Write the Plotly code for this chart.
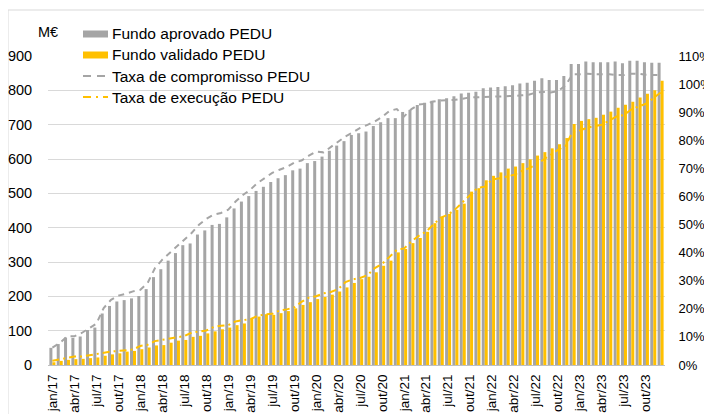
import plotly.graph_objects as go

# ---------------- data ----------------
month_names = ["jan", "fev", "mar", "abr", "mai", "jun", "jul", "ago", "set", "out", "nov", "dez"]
years = [17, 18, 19, 20, 21, 22, 23]
months = [f"{m}/{y}" for y in years for m in month_names]

fundo_aprovado = [
    50, 61, 80, 79, 83, 102, 109, 150, 172, 185, 189, 194,
    201, 221, 256, 279, 304, 326, 349, 354, 380, 392, 408, 411,
    430, 456, 476, 492, 507, 519, 533, 544, 553, 567, 572, 588,
    594, 607, 624, 639, 652, 670, 675, 680, 696, 707, 719, 719,
    737, 743, 757, 764, 770, 774, 777, 783, 791, 793, 796, 806,
    808, 810, 812, 815, 820, 822, 828, 835, 830, 830, 842, 877,
    877, 884, 882, 882, 882, 884, 879, 886, 886, 882, 880, 880,
]
fundo_validado = [
    8, 12, 15, 17, 18, 20, 22, 27, 31, 34, 39, 41,
    46, 51, 57, 58, 65, 71, 73, 82, 85, 92, 98, 104,
    109, 116, 121, 134, 141, 148, 146, 151, 157, 165, 175, 183,
    192, 198, 205, 214, 226, 239, 250, 257, 270, 289, 304, 328,
    338, 355, 370, 388, 413, 431, 440, 452, 470, 505, 515, 538,
    551, 561, 572, 578, 588, 599, 610, 620, 631, 643, 661, 702,
    711, 716, 720, 729, 738, 749, 758, 767, 779, 790, 800, 828,
]
taxa_compromisso = [
    6.2, 7.8, 10.2, 10.2, 11.4, 13.2, 14.7, 20.3, 23.2, 24.7, 25.3, 26.2,
    26.8, 29.2, 34.5, 37.5, 39.9, 42.2, 44.9, 47.0, 49.9, 52.0, 53.5, 54.1,
    55.3, 58.2, 60.5, 62.4, 64.8, 66.6, 68.4, 69.5, 70.5, 72.0, 72.8, 74.5,
    76.0, 75.7, 77.5, 79.6, 81.4, 82.8, 84.4, 85.5, 86.7, 88.3, 90.5, 91.1,
    88.5, 91.1, 92.7, 93.0, 93.8, 94.2, 94.2, 94.4, 94.8, 95.3, 95.3, 95.5,
    95.5, 95.6, 95.6, 95.8, 96.0, 96.2, 97.0, 97.2, 97.0, 97.5, 99.5, 103.5,
    103.5, 103.7, 103.5, 103.5, 103.5, 103.2, 103.2, 103.7, 103.7, 103.3, 103.2, 103.2,
]
taxa_execucao = [
    1.5, 2.0, 2.5, 3.0, 3.0, 3.5, 4.0, 4.5, 4.8, 5.0, 5.2, 5.5,
    6.8, 7.2, 8.5, 9.0, 9.3, 10.0, 10.3, 11.5, 12.0, 12.3, 13.5, 14.0,
    14.2, 15.5, 16.0, 16.3, 17.5, 18.0, 18.2, 19.4, 19.8, 20.5, 22.5, 24.0,
    24.5, 25.5, 26.0, 27.0, 29.5, 30.5, 31.0, 32.0, 34.5, 36.0, 38.5, 41.0,
    41.5, 44.0, 46.0, 47.5, 50.0, 52.5, 53.5, 55.5, 58.0, 60.5, 63.0, 63.5,
    66.0, 66.5, 67.0, 67.7, 69.0, 70.0, 71.3, 73.0, 75.0, 76.6, 78.0, 83.0,
    83.5, 84.5, 85.0, 85.5, 87.0, 88.5, 89.0, 91.0, 92.0, 93.0, 95.0, 97.0,
]
tick_labels = [m for i, m in enumerate(months) if i % 3 == 0]
left_ticks = [0, 100, 200, 300, 400, 500, 600, 700, 800, 900]
right_ticks = [0, 10, 20, 30, 40, 50, 60, 70, 80, 90, 100, 110]

series_names = ["Fundo aprovado PEDU", "Fundo validado PEDU",
                "Taxa de compromisso PEDU", "Taxa de execução PEDU"]

# ---------------- style ----------------
GREY = "#a5a5a5"
YELLOW = "#ffc000"
FONT = "Arial, Liberation Sans, sans-serif"
OFF = 8  # page body margin offset of the rendered figure
WIN_W, WIN_H = 712, 414
W, H = WIN_W - OFF, WIN_H - OFF   # figure fits the window exactly, no scrollbars
# target plot area in window pixels: x 48..665, y 56..365
L = 48 - OFF
T = 56 - OFF
R = W - (665 - OFF)
B = H - (365 - OFF)
PW, PH = W - L - R, H - T - B

def px(xp):
    return (xp - OFF - L) / PW

def py(yp):
    return (H - B - (yp - OFF)) / PH

xs = list(range(len(months)))

fig = go.Figure()
fig.add_trace(go.Bar(x=xs, y=fundo_aprovado, name=series_names[0],
                     marker=dict(color=GREY, line=dict(width=0)), showlegend=False))
fig.add_trace(go.Bar(x=xs, y=fundo_validado, name=series_names[1],
                     marker=dict(color=YELLOW, line=dict(width=0)), showlegend=False))
fig.add_trace(go.Scatter(x=xs, y=taxa_compromisso, yaxis="y2", mode="lines",
                         name=series_names[2], showlegend=False,
                         line=dict(color=GREY, width=2, dash="6px,5px")))
fig.add_trace(go.Scatter(x=xs, y=taxa_execucao, yaxis="y2", mode="lines",
                         name=series_names[3], showlegend=False,
                         line=dict(color=YELLOW, width=2, dash="7px,4px,2px,4px")))

fig.update_layout(
    width=W, height=H,
    margin=dict(l=L, r=R, t=T, b=B, pad=0, autoexpand=False),
    paper_bgcolor="white", plot_bgcolor="white",
    barmode="group", bargap=0.18, bargroupgap=0.0,
    font=dict(family=FONT, size=14, color="#000000"),
    xaxis=dict(
        range=[-0.6, len(months) - 0.4],
        tickmode="array",
        tickvals=[i for i in xs if i % 3 == 0],
        ticktext=tick_labels,
        tickangle=-90,
        tickfont=dict(size=13.5),
        showgrid=False, zeroline=False,
        showline=True, linecolor="#bfbfbf", linewidth=1,
        ticks="outside", ticklen=3, tickcolor="rgba(0,0,0,0)",
        automargin=False,
    ),
    yaxis=dict(
        range=[0, 900], tickvals=left_ticks,
        showgrid=True, gridcolor="#d9d9d9", gridwidth=1,
        zeroline=False, showline=False,
        ticks="outside", ticklen=12, tickcolor="rgba(0,0,0,0)",
        tickfont=dict(size=14.5),
        automargin=False,
    ),
    yaxis2=dict(
        range=[0, 110], tickvals=right_ticks,
        ticktext=[f"{v}%" for v in right_ticks],
        overlaying="y", side="right",
        showgrid=False, zeroline=False, showline=False,
        ticks="outside", ticklen=10, tickcolor="rgba(0,0,0,0)",
        tickfont=dict(size=13),
        automargin=False,
    ),
)

shapes = []
# outer border of chart
shapes.append(dict(type="rect", xref="paper", yref="paper",
                   x0=px(8), x1=px(730), y0=py(430), y1=py(10),
                   line=dict(color="#d9d9d9", width=1), fillcolor="rgba(0,0,0,0)",
                   layer="below"))
# custom legend
leg_x0, leg_x1 = 83, 108
rows_y = [34, 55, 76, 97]
shapes.append(dict(type="rect", xref="paper", yref="paper",
                   x0=px(leg_x0), x1=px(leg_x1), y0=py(rows_y[0] + 3.5), y1=py(rows_y[0] - 3.5),
                   fillcolor=GREY, line=dict(width=0)))
shapes.append(dict(type="rect", xref="paper", yref="paper",
                   x0=px(leg_x0), x1=px(leg_x1), y0=py(rows_y[1] + 3.5), y1=py(rows_y[1] - 3.5),
                   fillcolor=YELLOW, line=dict(width=0)))
shapes.append(dict(type="line", xref="paper", yref="paper",
                   x0=px(leg_x0), x1=px(leg_x1), y0=py(rows_y[2]), y1=py(rows_y[2]),
                   line=dict(color=GREY, width=2, dash="8px,6px")))
shapes.append(dict(type="line", xref="paper", yref="paper",
                   x0=px(leg_x0), x1=px(leg_x1), y0=py(rows_y[3]), y1=py(rows_y[3]),
                   line=dict(color=YELLOW, width=2, dash="8px,5px,2px,5px")))

annotations = []
for name, yy in zip(series_names, rows_y):
    annotations.append(dict(text=name, xref="paper", yref="paper",
                            x=px(110), y=py(yy), xanchor="left", yanchor="middle",
                            showarrow=False, font=dict(size=15.5, family=FONT, color="#000")))
annotations.append(dict(text="M€", xref="paper", yref="paper",
                        x=px(48), y=py(32), xanchor="center", yanchor="middle",
                        showarrow=False, font=dict(size=14.5, family=FONT, color="#000")))

fig.update_layout(shapes=shapes, annotations=annotations)

fig.write_html("out.html")
